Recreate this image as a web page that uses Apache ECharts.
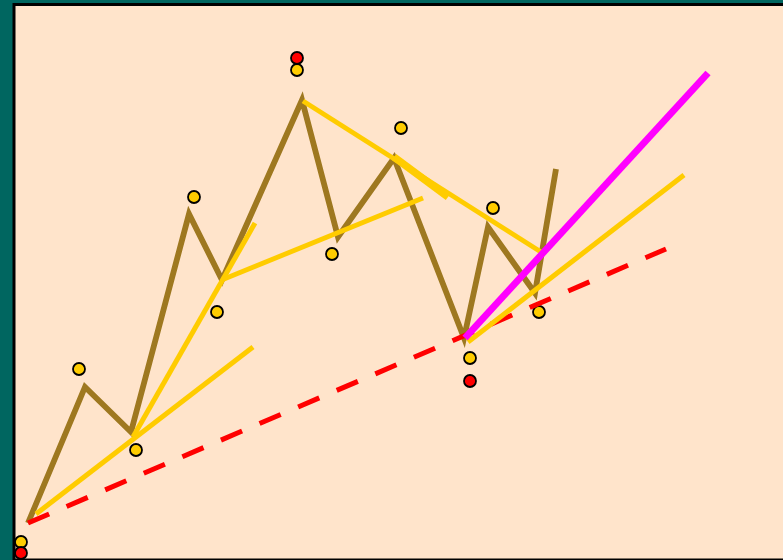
<!DOCTYPE html>
<html>
<head>
<meta charset="utf-8">
<script src="https://cdn.jsdelivr.net/npm/echarts@6/dist/echarts.min.js"></script>
<style>
  html, body { margin: 0; padding: 0; background: #006660; }
  #chart { width: 783px; height: 560px; }
</style>
</head>
<body>
<div id="chart"></div>
<script>
// zigzag swing points (bar, price)
const waveX = [14, 71, 117, 175, 208, 288, 324, 380, 450, 474, 521, 542];
const waveY = [37, 173, 128, 346, 280, 460, 323, 402, 222, 333, 267, 391];

// pivot markers
const yellowX = [7, 65, 122, 180, 203, 283, 318, 387, 479, 525, 456];
const yellowY = [18, 191, 110, 363, 248, 490, 306, 432, 352, 248, 202];
const redX = [7, 283, 456];
const redY = [7, 502, 179];

// yellow trend lines: [x1, y1, x2, y2]
const yellowLines = [
  [22, 46, 239, 213],
  [119, 123, 241, 337],
  [210, 281, 409, 362],
  [289, 459, 527, 308],
  [454, 218, 670, 385]
];
// short heavy segment on the upper channel
const channelEdge = [380, 403, 434, 363];
// main support (dashed) and breakout line
const supportLine = [14, 37, 652, 311];
const breakoutLine = [451, 222, 694, 487];

const pairs = (xs, ys) => xs.map((x, i) => [x, ys[i]]);
const seg = s => [[s[0], s[1]], [s[2], s[3]]];

const chart = echarts.init(document.getElementById('chart'));

const lineSeries = (data, color, width, type) => ({
  type: 'line',
  data: data,
  showSymbol: false,
  symbol: 'none',
  silent: true,
  lineStyle: { color: color, width: width, type: type || 'solid', cap: 'butt', join: 'miter' }
});

const series = [];
series.push(lineSeries(pairs(waveX, waveY), '#9E7820', 5.8));
series.push(lineSeries(seg(supportLine), '#FF0000', 5, [23, 19]));
yellowLines.forEach(l => series.push(lineSeries(seg(l), '#FFCC00', 5)));
series.push(lineSeries(seg(channelEdge), '#FFCC00', 7.5));
series.push(lineSeries(seg(breakoutLine), '#FF00FF', 7));
series.push({
  type: 'scatter',
  data: pairs(yellowX, yellowY),
  symbolSize: 12,
  itemStyle: { color: '#FFCC00', opacity: 1, borderColor: '#000', borderWidth: 1.8 }
});
series.push({
  type: 'scatter',
  data: pairs(redX, redY),
  symbolSize: 12,
  itemStyle: { color: '#FF0000', opacity: 1, borderColor: '#000', borderWidth: 1.8 }
});

chart.setOption({
  animation: false,
  backgroundColor: '#006660',
  grid: {
    show: true,
    left: 14,
    top: 4.5,
    width: 800,
    height: 555.5,
    outerBoundsMode: 'none',
    backgroundColor: '#FFE4CB',
    borderColor: '#000',
    borderWidth: 3
  },
  xAxis: { type: 'value', min: 0, max: 800, show: false },
  yAxis: { type: 'value', min: 0, max: 555.5, show: false },
  series: series
});
</script>
</body>
</html>
